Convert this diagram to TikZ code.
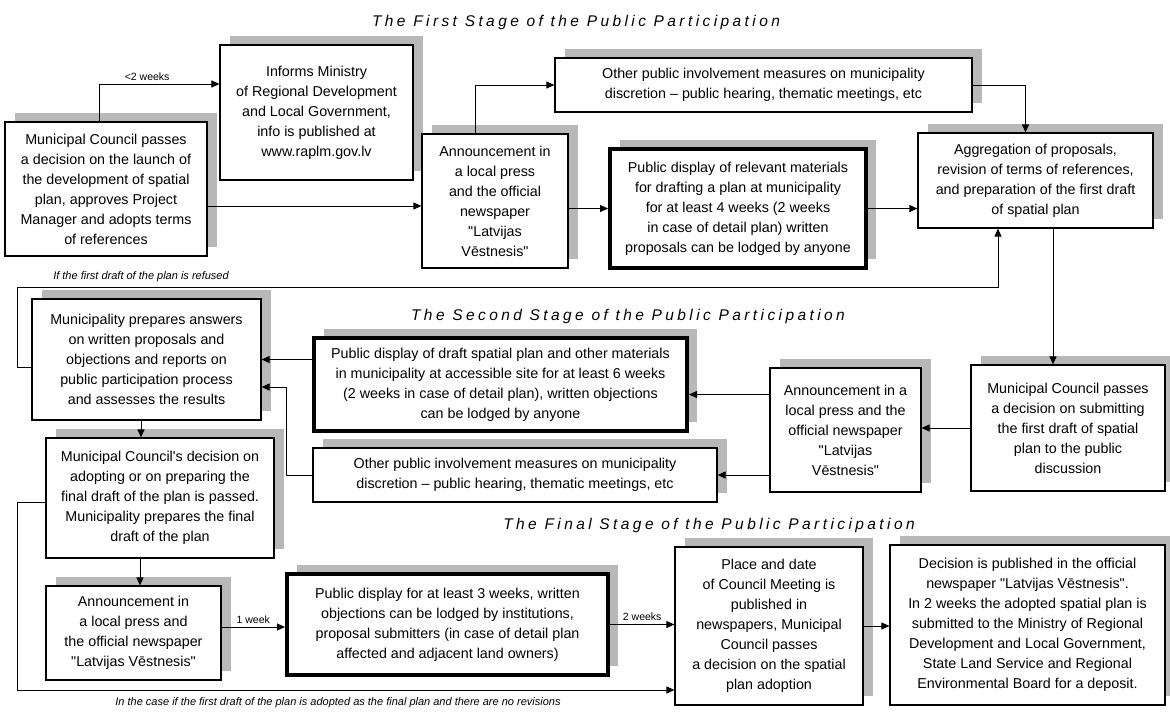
\documentclass[tikz,border=0pt]{standalone}
\usepackage{fontspec}
\setmainfont{Liberation Sans}
\newfontfamily\stagefont[LetterSpace=22]{Liberation Sans}
\usetikzlibrary{arrows.meta,shadows}
\begin{document}
\begin{tikzpicture}[x=1pt,y=-1pt,
    box/.style={draw, line width=1.2pt, fill=white, align=center, inner sep=2pt,
      font=\fontsize{14.3}{20}\selectfont,
      drop shadow={shadow xshift=10pt, shadow yshift=9pt, fill=black!28, opacity=1}},
    bold box/.style={box, line width=4pt},
    stage/.style={font=\stagefont\itshape\fontsize{15.5}{18}\selectfont},
    note/.style={font=\itshape\fontsize{11}{13}\selectfont},
    lag/.style={font=\fontsize{10.5}{12}\selectfont}]
      \useasboundingbox (0,0) rectangle (1170,712);
      \node[box, minimum width=202pt, minimum height=134pt] (1) at (106,189) {Municipal Council passes\\a decision on the launch of\\the development of spatial\\plan, approves Project\\Manager and adopts terms\\of references};
      \node[box, minimum width=193pt, minimum height=135pt] (2) at (316.5,112.5) {Informs Ministry\\of Regional Development\\and Local Government,\\info is published at\\www.raplm.gov.lv};
      \node[box, minimum width=146pt, minimum height=134pt] (3) at (495,201) {Announcement in\\a local press\\and the official\\newspaper\\\textquotedbl Latvijas\\Vēstnesis\textquotedbl};
      \node[box, minimum width=417pt, minimum height=54pt] (4) at (763.5,85) {Other public involvement measures on municipality\\discretion – public hearing, thematic meetings, etc};
      \node[bold box, minimum width=256pt, minimum height=119pt] (5) at (738,208.5) {Public display of relevant materials\\for drafting a plan at municipality\\for at least 4 weeks (2 weeks\\in case of detail plan) written\\proposals can be lodged by anyone};
      \node[box, minimum width=235pt, minimum height=95pt] (6) at (1035.5,180.5) {Aggregation of proposals,\\revision of terms of references,\\and preparation of the first draft\\of spatial plan};
      \node[box, minimum width=194pt, minimum height=126pt] (7) at (1068,428) {Municipal Council passes\\a decision on submitting\\the first draft of spatial\\plan to the public\\discussion};
      \node[box, minimum width=151pt, minimum height=124pt] (8) at (845.5,430) {Announcement in a\\local press and the\\official newspaper\\\textquotedbl Latvijas\\Vēstnesis\textquotedbl};
      \node[bold box, minimum width=373pt, minimum height=93pt] (9) at (500.5,384.5) {Public display of draft spatial plan and other materials\\in municipality at accessible site for at least 6 weeks\\(2 weeks in case of detail plan), written objections\\can be lodged by anyone};
      \node[box, minimum width=404pt, minimum height=54pt] (10) at (515,475) {Other public involvement measures on municipality\\discretion – public hearing, thematic meetings, etc};
      \node[box, minimum width=229pt, minimum height=121pt] (11) at (146.5,359.5) {Municipality prepares answers\\on written proposals and\\objections and reports on\\public participation process\\and assesses the results};
      \node[box, minimum width=228pt, minimum height=120pt] (12) at (160,498) {Municipal Council\textquotesingle s decision on\\adopting or on preparing the\\final draft of the plan is passed.\\Municipality prepares the final\\draft of the plan};
      \node[box, minimum width=175pt, minimum height=94pt] (13) at (133.5,633) {Announcement in\\a local press and\\the official newspaper\\\textquotedbl Latvijas Vēstnesis\textquotedbl};
      \node[bold box, minimum width=321pt, minimum height=101pt] (14) at (447.5,624.5) {Public display for at least 3 weeks, written\\objections can be lodged by institutions,\\proposal submitters (in case of detail plan\\affected and adjacent land owners)};
      \node[box, minimum width=188pt, minimum height=158pt] (15) at (769,626) {Place and date\\of Council Meeting is\\published in\\newspapers, Municipal\\Council passes\\a decision on the spatial\\plan adoption};
      \node[box, minimum width=275pt, minimum height=160pt] (16) at (1027.5,625) {Decision is published in the official\\newspaper \textquotedbl Latvijas Vēstnesis\textquotedbl.\\In 2 weeks the adopted spatial plan is\\submitted to the Ministry of Regional\\Development and Local Government,\\State Land Service and Regional\\Environmental Board for a deposit.};
      \node[stage] (17) at (576,22) {The First Stage of the Public Participation};
      \node[stage] (18) at (628,316) {The Second Stage of the Public Participation};
      \node[stage] (19) at (709,525) {The Final Stage of the Public Participation};
      \node[note] (20) at (141,277) {If the first draft of the plan is refused};
      \node[note] (21) at (338,703) {In the case if the first draft of the plan is adopted as the final plan and there are no revisions};
      \begin{scope}[-{Triangle[length=8pt,width=7pt]}, line width=1pt]
        \draw ([xshift=-7pt]1.north) |- ([yshift=28.5pt]2.west) node[lag, pos=0.7, above] (22) {<2 weeks};
        \draw ([yshift=-17pt]1.east) -- ([yshift=-17pt]1.east -| 3.west);
        \draw ([xshift=-20pt]3.north) |- (4.west);
        \draw (3.east |- 5.west) -- (5.west);
        \draw (5.east) -- (5.east -| 6.west);
        \draw (4.east) -| ([xshift=-10pt]6.north);
        \draw ([xshift=17.5pt]6.south) -- ([xshift=17.5pt]6.south |- 7.north);
        \draw ([yshift=-7.5pt]11.west) -- ++(-14,0) -- ++(0,-80) -| ([xshift=-37.5pt]6.south);
        \draw (7.west) -- (7.west -| 8.east);
        \draw ([yshift=-10pt]9.east -| 8.west) -- ([yshift=-10pt]9.east);
        \draw (10.east -| 8.west) -- (10.east);
        \draw (11.east -| 9.west) -- (11.east);
        \draw (10.west) -- ++(-26,0) |- ([yshift=-27.5pt]11.east);
        \draw ([xshift=-5.5pt]11.south) -- ([xshift=-5.5pt]11.south |- 12.north);
        \draw ([xshift=-20pt]12.south) -- ([xshift=-20pt]12.south |- 13.north);
        \draw ([yshift=6pt]13.east) -- ([yshift=6pt]13.east -| 14.west) node[lag, midway, above] (23) {1 week};
        \draw (14.east) -- (14.east -| 15.west) node[lag, midway, above] (24) {2 weeks};
        \draw ([yshift=-4pt]12.west) -- ++(-28,0) |- ([yshift=-64pt]15.west);
        \draw (15.east) -- (15.east -| 16.west);
      \end{scope}
    \end{tikzpicture}
\end{document}
